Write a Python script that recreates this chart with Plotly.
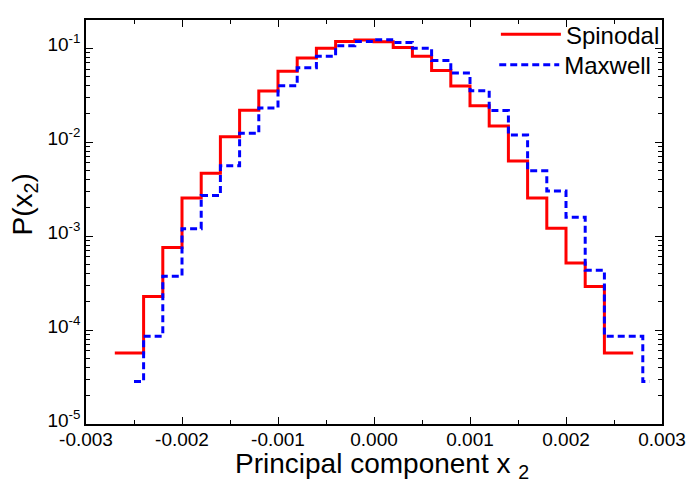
import plotly.graph_objects as go

# Step-histogram data (bin edges and probabilities)
spin_edges = [-0.0027, -0.0024, -0.0022, -0.0020, -0.0018, -0.0016, -0.0014, -0.0012,
              -0.0010, -0.0008, -0.0006, -0.0004, -0.0002, 0.0, 0.0002, 0.0004, 0.0006,
              0.0008, 0.0010, 0.0012, 0.0014, 0.0016, 0.0018, 0.0020, 0.0022, 0.0024, 0.0027]
spin_vals = [5.7e-5, 2.27e-4, 7.55e-4, 2.55e-3, 4.66e-3, 0.0114, 0.0218, 0.0351,
             0.0567, 0.0787, 0.100, 0.118, 0.122, 0.117, 0.1017, 0.082, 0.058,
             0.0395, 0.0244, 0.01486, 6.3e-3, 2.55e-3, 1.21e-3, 5.18e-4, 2.91e-4, 5.7e-5]

maxw_edges = [-0.0025, -0.0024, -0.0022, -0.0020, -0.0018, -0.0016, -0.0014, -0.0012,
              -0.0010, -0.0008, -0.0006, -0.0004, -0.0002, 0.0, 0.0002, 0.0004, 0.0006,
              0.0008, 0.0010, 0.0012, 0.0014, 0.0016, 0.0018, 0.0020, 0.0022, 0.0024,
              0.0028, 0.00287]
maxw_vals = [2.83e-5, 8.6e-5, 3.73e-4, 1.2e-3, 2.7e-3, 5.6e-3, 0.0124, 0.0231,
             0.0398, 0.0618, 0.0819, 0.106, 0.118, 0.123, 0.115, 0.100, 0.0739,
             0.0544, 0.0353, 0.0217, 0.0119, 4.96e-3, 3.02e-3, 1.59e-3, 4.34e-4,
             8.6e-5, 2.83e-5]

x_ticks = [-0.003, -0.002, -0.001, 0.0, 0.001, 0.002, 0.003]
x_ticktext = ["-0.003", "-0.002", "-0.001", "0.000", "0.001", "0.002", "0.003"]
y_ticks = [1e-5, 1e-4, 1e-3, 1e-2, 1e-1]
y_ticktext = ["10<sup>-5</sup>", "10<sup>-4</sup>", "10<sup>-3</sup>", "10<sup>-2</sup>", "10<sup>-1</sup>"]

x_title = "Principal component x <sub>2</sub>"
y_title = "P(x<sub>2</sub>)"

FONT = "Liberation Sans, Arial, sans-serif"


def step_xy(edges, vals):
    # 'hv' line shape: each value holds from its left edge to the next edge
    return list(edges), list(vals) + [vals[-1]]


sx, sy = step_xy(spin_edges, spin_vals)
mx, my = step_xy(maxw_edges, maxw_vals)

fig = go.Figure()
fig.add_trace(go.Scatter(x=sx, y=sy, mode="lines", name="Spinodal", legend="legend",
                         line=dict(color="#ff0000", width=3, shape="hv")))
fig.add_trace(go.Scatter(x=mx, y=my, mode="lines", name="Maxwell", legend="legend2",
                         line=dict(color="#0000ff", width=3, shape="hv", dash="7px,4px")))

minor_y = [m * 10 ** k for k in range(-5, 0) for m in range(2, 10)]

leg_common = dict(xanchor="right", yanchor="middle", bgcolor="rgba(0,0,0,0)",
                  font=dict(size=24, family=FONT), itemwidth=60)

fig.update_layout(
    width=698, height=484,
    margin=dict(l=86, r=25, t=12, b=60),
    paper_bgcolor="white", plot_bgcolor="white",
    font=dict(family=FONT, color="black", size=19),
    showlegend=True,
    legend=dict(x=1.005, y=0.9636, **leg_common),
    legend2=dict(x=0.990, y=0.888, **leg_common),
    xaxis=dict(
        range=[-0.003, 0.003], showline=True, linecolor="black", linewidth=1.5,
        mirror="allticks", ticks="inside", ticklen=7, tickwidth=1.3, tickcolor="black",
        tickvals=x_ticks, ticktext=x_ticktext, showgrid=False, zeroline=False,
        tickfont=dict(size=19, family=FONT), ticklabelstandoff=-3,
        minor=dict(ticks="inside", ticklen=4, tickwidth=1.3, tickcolor="black",
                   tickvals=[-0.0025, -0.0015, -0.0005, 0.0005, 0.0015, 0.0025], showgrid=False),
    ),
    yaxis=dict(
        type="log", range=[-5, -0.7], showline=True, linecolor="black", linewidth=1.5,
        mirror="allticks", ticks="inside", ticklen=7, tickwidth=1.3, tickcolor="black",
        tickvals=y_ticks, ticktext=y_ticktext, showgrid=False, zeroline=False,
        tickfont=dict(size=19, family=FONT), ticklabelshift=-4,
        minor=dict(ticks="inside", ticklen=4, tickwidth=1.3, tickcolor="black",
                   tickvals=minor_y, showgrid=False),
    ),
    annotations=[
        dict(text=x_title, xref="paper", yref="paper", x=(237 - 86) / 587, y=(424 - 485) / 412,
             xanchor="left", yanchor="bottom", showarrow=False, borderpad=0,
             font=dict(size=28, family=FONT)),
        dict(text=y_title, xref="paper", yref="paper", x=(23 - 86) / 587, y=(424 - 200) / 412,
             xanchor="center", yanchor="middle", textangle=-90, showarrow=False,
             font=dict(size=28, family=FONT)),
    ],
)

fig.write_html("out.html")
